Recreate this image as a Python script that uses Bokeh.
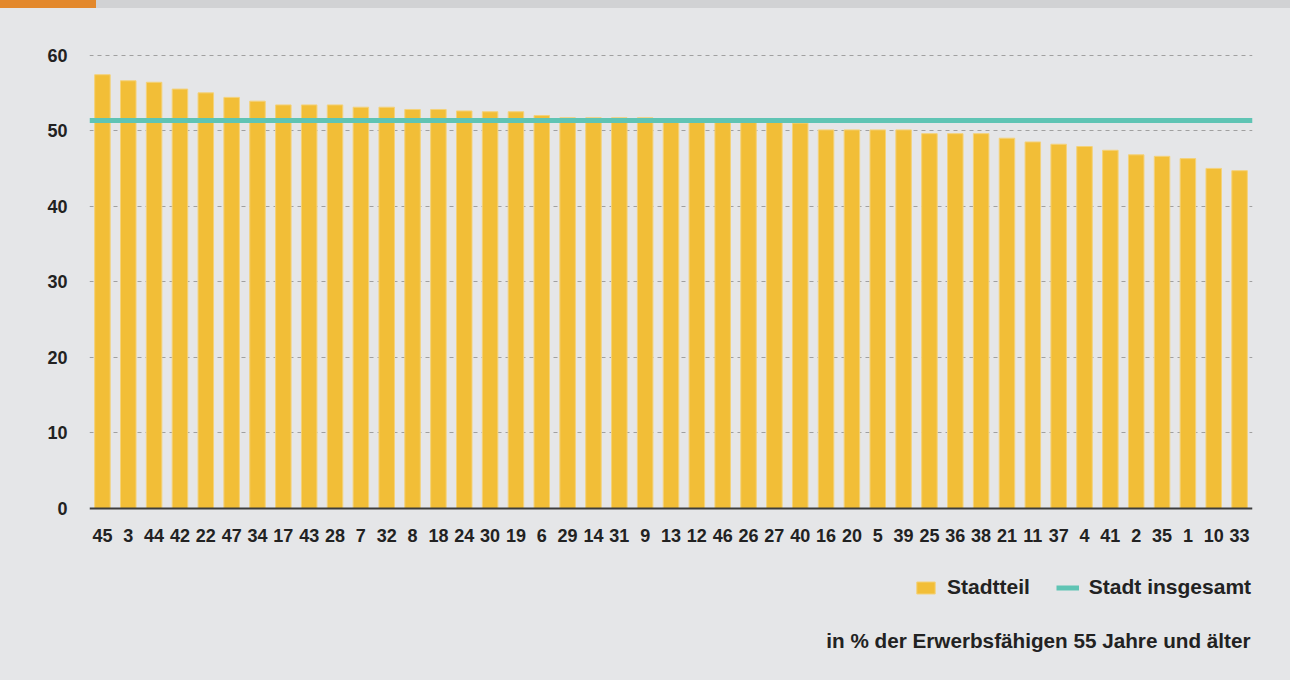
from bokeh.plotting import figure
from bokeh.models import (FactorRange, Range1d, Legend, LegendItem, Label,
                          FixedTicker, Div, ColumnDataSource)
from bokeh.layouts import column
from bokeh.embed import file_html
from bokeh.resources import INLINE

# ---- data -------------------------------------------------------------
districts = ["45", "3", "44", "42", "22", "47", "34", "17", "43", "28",
             "7", "32", "8", "18", "24", "30", "19", "6", "29", "14",
             "31", "9", "13", "12", "46", "26", "27", "40", "16", "20",
             "5", "39", "25", "36", "38", "21", "11", "37", "4", "41",
             "2", "35", "1", "10", "33"]
shares = [57.4, 56.6, 56.4, 55.5, 55.0, 54.4, 53.9, 53.4, 53.4, 53.4,
          53.1, 53.1, 52.8, 52.8, 52.6, 52.5, 52.5, 52.0, 51.7, 51.7,
          51.7, 51.7, 51.3, 51.3, 51.2, 51.2, 51.2, 51.0, 50.1, 50.1,
          50.1, 50.1, 49.6, 49.6, 49.6, 49.0, 48.5, 48.2, 47.9, 47.4,
          46.8, 46.6, 46.3, 45.0, 44.7]
city_total = [51.3]
y_ticks = [0, 10, 20, 30, 40, 50, 60]
series_names = ["Stadtteil", "Stadt insgesamt"]
footnote = "in % der Erwerbsfähigen 55 Jahre und älter"

# ---- style ------------------------------------------------------------
BG = "#e5e6e8"
BAR = "#f2be37"
TEAL = "#5fc4b4"
TXT = "#222222"
FONT = "Liberation Sans"

# layout geometry (pixels): frame from y=47 (top) to 680 (bottom); value 0 at y=508
FRAME_H = 633
PX_PER_UNIT = 461 / 61.0
Y_END = 61
Y_START = -(FRAME_H - 461) / PX_PER_UNIT

src = ColumnDataSource(dict(district=districts, share=shares))

p = figure(width=1290, height=672, output_backend="svg", toolbar_location=None,
           x_range=FactorRange(factors=districts, range_padding=0),
           y_range=Range1d(Y_START, Y_END),
           min_border_left=89, min_border_right=38,
           min_border_top=39, min_border_bottom=0)
p.background_fill_color = BG
p.border_fill_color = BG
p.outline_line_color = None

bars = p.vbar(x="district", top="share", width=0.6, source=src,
              fill_color=BAR, line_color="#f4d27a", line_width=1)
city = p.hspan(y=city_total, line_color=TEAL, line_width=5)

# axes
p.xaxis.fixed_location = 0
p.xaxis.axis_line_color = "#3c3c3c"
p.xaxis.axis_line_width = 2
p.xaxis.major_tick_line_color = None
p.xaxis.minor_tick_line_color = None
p.xaxis.major_tick_out = 0
p.xaxis.major_tick_in = 0
p.xaxis.major_label_standoff = 20
p.xaxis.major_label_text_font = FONT
p.xaxis.major_label_text_font_size = "18px"
p.xaxis.major_label_text_font_style = "bold"
p.xaxis.major_label_text_color = TXT

p.yaxis.ticker = FixedTicker(ticks=y_ticks)
p.yaxis.axis_line_color = None
p.yaxis.major_tick_line_color = None
p.yaxis.minor_tick_line_color = None
p.yaxis.major_tick_out = 0
p.yaxis.major_tick_in = 0
p.yaxis.major_label_standoff = 22
p.yaxis.major_label_text_font = FONT
p.yaxis.major_label_text_font_size = "18px"
p.yaxis.major_label_text_font_style = "bold"
p.yaxis.major_label_text_color = TXT

p.xgrid.grid_line_color = None
p.ygrid.ticker = FixedTicker(ticks=y_ticks[1:])
p.ygrid.grid_line_color = "#a0a0a0"
p.ygrid.grid_line_dash = "4 4"
p.ygrid.grid_line_width = 1

legend = Legend(items=[LegendItem(label=series_names[0], renderers=[bars]),
                       LegendItem(label=series_names[1], renderers=[city])],
                orientation="horizontal", location=(825, 81),
                glyph_width=23, glyph_height=15, label_standoff=10, spacing=26,
                padding=0, margin=0,
                label_text_font=FONT, label_text_font_size="21px",
                label_text_font_style="bold", label_text_color=TXT,
                background_fill_alpha=0, border_line_color=None)
p.add_layout(legend)

note = Label(x=1161, y=40, x_units="screen", y_units="screen", text=footnote,
             text_align="right", text_baseline="middle", text_font=FONT,
             text_font_size="20.7px", text_font_style="bold", text_color=TXT)
p.add_layout(note)

strip = Div(text="", width=1290, height=8, margin=0,
            styles={"background": "linear-gradient(to right, #e3882b 0px, #e3882b 96px, "
                                  "#d1d2d4 96px, #d1d2d4 100%)",
                    "height": "8px", "width": "1290px"})

layout = column(strip, p, spacing=0)
html = file_html(layout, INLINE)
html = html.replace("</head>",
                    "<style>html,body{margin:0;padding:0;background:#e5e6e8;overflow:hidden}</style></head>", 1)
open("out.html", "w").write(html)
